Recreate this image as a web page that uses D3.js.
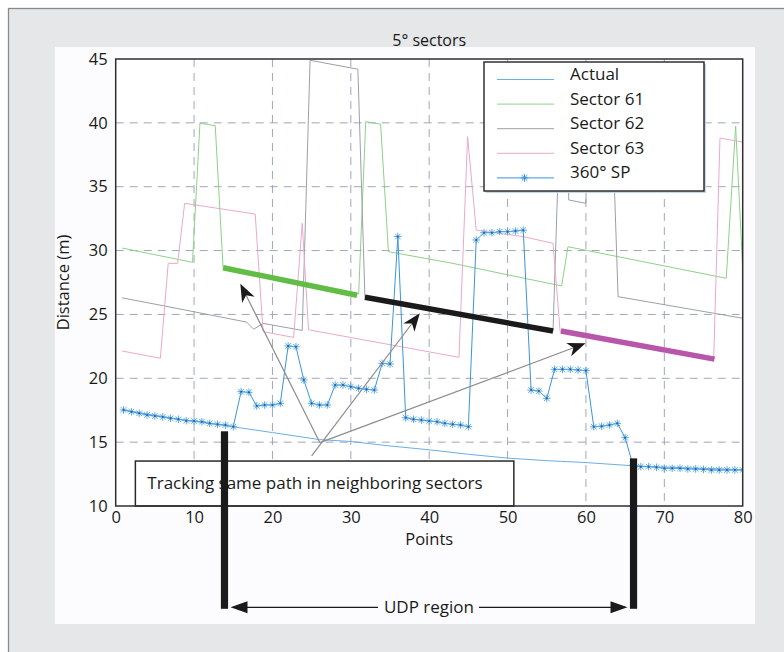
<!DOCTYPE html>
<html><head><meta charset="utf-8">
<script src="https://cdn.jsdelivr.net/npm/d3@7"></script>
<style>
body{margin:0;background:#fff}
svg{display:block}
text{font-family:"Open Sans",sans-serif;fill:#1a1a1a}
</style>
</head><body>
<svg id="c" width="784" height="652"></svg>
<script>
// ---------- data ----------
const xTicks = [0,10,20,30,40,50,60,70,80];
const yTicks = [10,15,20,25,30,35,40,45];
const seriesNames = ["Actual","Sector 61","Sector 62","Sector 63","360° SP"];
const seriesColors = ["#6aaee6","#8fd08a","#9aa0a8","#eaa9c9","#3a94dc"];

const actualX = [1,8,15,20,26,30,35,40,45,50,55,60,66,70,75,80];
const actualY = [17.52,16.8,16.2,15.75,15.2,15.05,14.7,14.4,14.05,13.75,13.55,13.4,13.15,13.05,12.95,12.85];

const sector61X = [0.8,9.8,10.75,12.7,13.7,31.0,31.9,33.8,34.8,42.6,51.6,56.9,57.7,60.2,77.9,79.1,80];
const sector61Y = [30.2,29.08,39.97,39.78,28.66,26.6,40.09,39.9,29.91,29.05,27.9,27.23,30.3,30.0,27.83,39.75,28.6];

const sector62X = [0.8,5.9,16.7,17.6,18.8,23.8,24.8,30.9,31.8,55.8,56.7,57.7,57.8,60.0,60.1,63.3,64.1,80];
const sector62Y = [26.3,25.7,24.4,23.84,24.3,23.75,44.9,44.2,26.35,23.7,41,41,33.96,33.7,41,41,26.39,24.7];

const sector63X = [0.8,5.7,6.7,7.9,8.8,17.8,18.8,22.7,23.8,24.6,43.8,44.9,46,52,55.8,56.7,76.3,77.1,80];
const sector63Y = [22.14,21.57,29.0,29.0,33.7,32.86,23.65,23.2,32.14,23.8,21.64,38.92,31.6,31.09,30.57,23.7,21.5,38.8,38.5];

const spX = d3.range(1, 81);
const spY = [17.52,17.38,17.26,17.13,17.05,16.97,16.87,16.79,16.68,16.66,16.6,16.47,16.4,16.34,16.21,
  18.95,18.9,17.83,17.91,17.91,18.04,22.53,22.47,19.87,18.04,17.91,17.91,
  19.47,19.47,19.34,19.22,19.14,19.08,21.17,21.12,31.1,
  16.91,16.79,16.73,16.66,16.6,16.47,16.4,16.34,16.21,
  30.83,31.4,31.4,31.48,31.48,31.53,31.6,
  19.08,19.0,18.43,20.7,20.7,20.7,20.65,20.6,
  16.2,16.25,16.34,16.47,15.35,13.2,
  13.08,13.08,13.03,12.95,12.95,12.95,12.9,12.9,12.87,12.82,12.82,12.82,12.82,12.82];

// thick "same path" segments
const pathGreenX = [13.7,30.8],  pathGreenY = [28.66,26.5];
const pathBlackX = [31.8,55.8],  pathBlackY = [26.35,23.7];
const pathMagX   = [56.8,76.4],  pathMagY   = [23.7,21.5];

// annotation arrows (tail -> tip), data coords
const arrowTailX = [26.06,25.0,26.06], arrowTailY = [14.96,13.92,14.96];
const arrowTipX  = [15.9,38.8,59.95],  arrowTipY  = [27.4,25.09,22.74];

// UDP region bars
const udpX = [13.88,66.07];
const udpTopY = [15.85,13.73];
const udpBottomY = 1.95;
const udpArrowY = 2.07;
const noteBoxX = [2.51,50.8], noteBoxY = [13.52,10];

// ---------- layout ----------
const svg = d3.select("#c");
const x = d3.scaleLinear().domain([0,80]).range([115.7,742.7]);
const y = d3.scaleLinear().domain([10,45]).range([506,59]);

// background frame
svg.append("rect").attr("x",0).attr("y",0).attr("width",784).attr("height",652).attr("fill","#fff");
svg.append("rect").attr("x",8.5).attr("y",8.5).attr("width",800).attr("height",700)
  .attr("fill","#e6e7e8").attr("stroke","#8a8a8a").attr("stroke-width",1.3);
svg.append("rect").attr("x",55).attr("y",47).attr("width",700).attr("height",577).attr("fill","#fcfcfe");

// plot background
svg.append("rect").attr("x",x(0)).attr("y",y(45)).attr("width",x(80)-x(0)).attr("height",y(10)-y(45)).attr("fill","#fff");

// grid
const g = svg.append("g");
g.selectAll(".vg").data(xTicks.slice(1,-1)).enter().append("line")
  .attr("x1",d=>x(d)).attr("x2",d=>x(d)).attr("y1",y(45)).attr("y2",y(10))
  .attr("stroke","#9ea7b8").attr("stroke-width",1).attr("stroke-dasharray","8,6");
g.selectAll(".hg").data(yTicks.slice(1,-1)).enter().append("line")
  .attr("y1",d=>y(d)).attr("y2",d=>y(d)).attr("x1",x(0)).attr("x2",x(80))
  .attr("stroke","#9ea7b8").attr("stroke-width",1).attr("stroke-dasharray","8,6");

// clip
svg.append("clipPath").attr("id","pc").append("rect")
  .attr("x",x(0)).attr("y",y(45)).attr("width",x(80)-x(0)).attr("height",y(10)-y(45));
const plot = svg.append("g").attr("clip-path","url(#pc)");

const line = d3.line().x(d=>x(d[0])).y(d=>y(d[1]));
function drawSeries(X, Y, color, w){
  plot.append("path").datum(d3.zip(X,Y)).attr("d",line)
    .attr("fill","none").attr("stroke",color).attr("stroke-width",w).attr("stroke-linejoin","round");
}
drawSeries(sector61X, sector61Y, seriesColors[1], 1);
drawSeries(sector62X, sector62Y, seriesColors[2], 1);
drawSeries(sector63X, sector63Y, seriesColors[3], 1);
drawSeries(actualX, actualY, seriesColors[0], 1);

// 360 SP
const starPath = "M-3.8,0H3.8M0,-3.8V3.8M-2.8,-2.8L2.8,2.8M-2.8,2.8L2.8,-2.8";
plot.append("path").datum(d3.zip(spX,spY)).attr("d",line)
  .attr("fill","none").attr("stroke",seriesColors[4]).attr("stroke-width",1);
plot.selectAll(".st").data(d3.zip(spX,spY)).enter().append("path")
  .attr("d",starPath).attr("transform",d=>`translate(${x(d[0])},${y(d[1])})`)
  .attr("stroke","#5aa8e6").attr("stroke-width",1).attr("fill","none");
plot.selectAll(".sd").data(d3.zip(spX,spY)).enter().append("circle")
  .attr("cx",d=>x(d[0])).attr("cy",d=>y(d[1])).attr("r",1).attr("fill","#1f5f9a");

// thick path segments
drawSeries(pathGreenX, pathGreenY, "#62bd46", 5.5);
drawSeries(pathBlackX, pathBlackY, "#1a1a1a", 5.5);
drawSeries(pathMagX, pathMagY, "#b856a9", 5.5);

// arrows
function arrowHead(x1,y1,x2,y2,len,half,col){
  const a = Math.atan2(y2-y1, x2-x1);
  svg.append("path")
    .attr("d",`M0,0L${-len},${-half}L${-len*0.72},0L${-len},${half}Z`)
    .attr("transform",`translate(${x2},${y2}) rotate(${a*180/Math.PI})`)
    .attr("fill",col);
}
for(let i=0;i<arrowTailX.length;i++){
  const x1=x(arrowTailX[i]), y1=y(arrowTailY[i]), x2=x(arrowTipX[i]), y2=y(arrowTipY[i]);
  const a=Math.atan2(y2-y1,x2-x1);
  svg.append("line").attr("x1",x1).attr("y1",y1).attr("x2",x2-10*Math.cos(a)).attr("y2",y2-10*Math.sin(a))
    .attr("stroke","#8c8c8c").attr("stroke-width",1.2);
  arrowHead(x1,y1,x2,y2,18,7,"#1a1a1a");
}

// note box
svg.append("rect").attr("x",x(noteBoxX[0])).attr("y",y(noteBoxY[0]))
  .attr("width",x(noteBoxX[1])-x(noteBoxX[0])).attr("height",y(noteBoxY[1])-y(noteBoxY[0]))
  .attr("fill","#fff").attr("stroke","#2a2a2a").attr("stroke-width",1.5);
svg.append("text").attr("x",x(noteBoxX[0])+12).attr("y",(y(noteBoxY[0])+y(noteBoxY[1]))/2+5)
  .attr("font-size",17).text("Tracking same path in neighboring sectors");

// legend
const lg = svg.append("g");
lg.append("rect").attr("x",486).attr("y",64).attr("width",220).attr("height",129).attr("fill","#c9d6e6");
lg.append("rect").attr("x",484).attr("y",62).attr("width",220).attr("height",129)
  .attr("fill","#fff").attr("stroke","#222").attr("stroke-width",1.4);
seriesNames.forEach((n,i)=>{
  const cy = 79.5 + i*24.6;
  lg.append("line").attr("x1",497).attr("x2",554).attr("y1",cy).attr("y2",cy)
    .attr("stroke",seriesColors[i]).attr("stroke-width",1);
  if(i===4){
    lg.append("path").attr("d",starPath).attr("transform",`translate(524.5,${cy})`)
      .attr("stroke",seriesColors[4]).attr("fill","none");
  }
  lg.append("text").attr("x",570).attr("y",cy+0.5).attr("font-size",17).text(n);
});

// axis box
svg.append("rect").attr("x",x(0)).attr("y",y(45)).attr("width",x(80)-x(0)).attr("height",y(10)-y(45))
  .attr("fill","none").attr("stroke","#2e2e2e").attr("stroke-width",1.5);

// axes (labels only)
const xa = svg.append("g").attr("transform",`translate(0,${y(10)})`)
  .call(d3.axisBottom(x).tickValues(xTicks).tickSize(0).tickPadding(5).tickFormat(d3.format("d")));
xa.select(".domain").remove();
xa.selectAll("text").attr("font-size",16.5).attr("font-family","Open Sans, sans-serif").attr("fill","#1a1a1a");
const ya = svg.append("g").attr("transform",`translate(${x(0)},0)`)
  .call(d3.axisLeft(y).tickValues(yTicks).tickSize(0).tickPadding(8).tickFormat(d3.format("d")));
ya.select(".domain").remove();
ya.selectAll("text").attr("font-size",16.5).attr("font-family","Open Sans, sans-serif").attr("fill","#1a1a1a");

// titles
svg.append("text").attr("x",(x(0)+x(80))/2).attr("y",46).attr("text-anchor","middle").attr("font-size",16).text("5° sectors");
svg.append("text").attr("x",(x(0)+x(80))/2).attr("y",545).attr("text-anchor","middle").attr("font-size",16.5).text("Points");
svg.append("text").attr("transform",`translate(69,${(y(10)+y(45))/2}) rotate(-90)`).attr("text-anchor","middle")
  .attr("font-size",16.5).text("Distance (m)");

// UDP bars
udpX.forEach((v,i)=>{
  svg.append("rect").attr("x",x(v)-3.6).attr("y",y(udpTopY[i])).attr("width",7.2)
    .attr("height",y(udpBottomY)-y(udpTopY[i])).attr("fill","#1a1a1a");
});
// UDP arrow
const ay = y(udpArrowY);
const lx = x(udpX[0])+6, rx = x(udpX[1])-6;
svg.append("line").attr("x1",lx+14).attr("x2",378).attr("y1",ay).attr("y2",ay).attr("stroke","#1a1a1a").attr("stroke-width",1.3);
svg.append("line").attr("x1",479).attr("x2",rx-14).attr("y1",ay).attr("y2",ay).attr("stroke","#1a1a1a").attr("stroke-width",1.3);
svg.append("path").attr("d",`M${lx},${ay}L${lx+17},${ay-6}L${lx+17},${ay+6}Z`).attr("fill","#1a1a1a");
svg.append("path").attr("d",`M${rx},${ay}L${rx-17},${ay-6}L${rx-17},${ay+6}Z`).attr("fill","#1a1a1a");
svg.append("text").attr("x",(lx+rx)/2).attr("y",ay+5.5).attr("text-anchor","middle").attr("font-size",17).text("UDP region");
</script>
</body></html>
